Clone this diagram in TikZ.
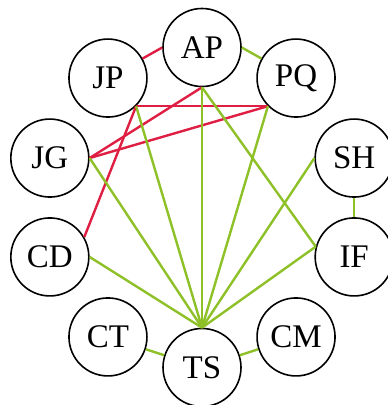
\documentclass[tikz,border=0pt]{standalone}
\usepackage{fontspec}
\setmainfont{Liberation Serif}
\definecolor{linkred}{RGB}{222,30,66}
\definecolor{linkgreen}{RGB}{142,192,40}

\begin{document}
\begin{tikzpicture}[x=0.5pt, y=0.5pt, line width=1.2pt,
    person/.style={draw, circle, line width=0.8pt, minimum size=39pt, inner sep=0pt, font=\fontsize{16.5}{19}\selectfont},
    foe/.style={linkred},
    ally/.style={linkgreen}]
    \useasboundingbox (-202,-197.5) rectangle (185,207.5);
    % ring of people
    \node[person] (AP) at (90:160){AP};
    \node[person] (PQ) at (54:160){PQ};
    \node[person] (SH) at (18:160){SH};
    \node[person] (IF) at (-18:160){IF};
    \node[person] (CM) at (-54:160){CM};
    \node[person] (TS) at (-90:160){TS};
    \node[person] (CT) at (-126:160){CT};
    \node[person] (CD) at (-162:160){CD};
    \node[person] (JG) at (162:160){JG};
    \node[person] (JP) at (126:160){JP};
    % red links
    \draw[foe] (JP) -- (AP.west);
    \draw[foe] (JP.south east) -- (PQ.south west);
    \draw[foe] (JG.east) -- (PQ.south west);
    \draw[foe] (JG.east) -- (AP.south);
    \draw[foe] (JP.south east) -- (CD.30);
    % green links
    \draw[ally] (AP.east) -- (PQ);
    \draw[ally] (SH.south) -- (IF.north);
    \draw[ally] (AP.south) -- (IF.165);
    \draw[ally] (JG.east) -- (TS.north);
    \draw[ally] (JP.south east) -- (TS.north);
    \draw[ally] (AP.south) -- (TS.north);
    \draw[ally] (PQ.south west) -- (TS.north);
    \draw[ally] (SH.west) -- (TS.north);
    \draw[ally] (CD.east) -- (TS.north);
    \draw[ally] (IF.165) -- (TS.north);
    \draw[ally] (CT) -- (TS);
    \draw[ally] (CM) -- (TS);
\end{tikzpicture}
\end{document}
